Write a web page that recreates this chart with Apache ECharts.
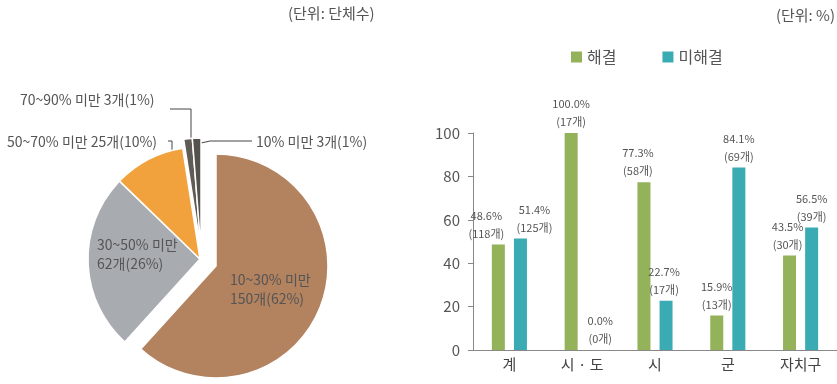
<!DOCTYPE html>
<html>
<head>
<meta charset="utf-8">
<script src="https://cdn.jsdelivr.net/npm/echarts@6/dist/echarts.min.js"></script>
<style>
  html, body { margin: 0; padding: 0; background: #fff; }
  #chart { width: 837px; height: 384px; }
</style>
</head>
<body>
<div id="chart"></div>
<script>
// Pie: groups by ratio range
const pieNames = ['10~30% 미만', '30~50% 미만', '50~70% 미만', '70~90% 미만', '10% 미만'];
const pieCounts = [150, 62, 25, 3, 3];
const piePercents = [62, 26, 10, 1, 1];

// Bars: resolved / unresolved share by local government type
const barCategories = ['계', '시 · 도', '시', '군', '자치구'];
const resolvedPct = [48.6, 100.0, 77.3, 15.9, 43.5];
const resolvedCnt = [118, 17, 58, 13, 30];
const unresolvedPct = [51.4, 0.0, 22.7, 84.1, 56.5];
const unresolvedCnt = [125, 0, 17, 69, 39];
const yTicks = [0, 20, 40, 60, 80, 100];

const FONT = '"Noto Sans CJK KR", "Noto Sans", sans-serif';
const TEXT = '#555';

const pieColors = ['#b3825f', '#a8acb1', '#f2a23c', '#5f5b57', '#55524e'];
const pieInside = [true, true, false, false, false];

// The pie is drawn as three layers so some slices can be pulled out
const PIE_CENTER = [200, 259];
const PIE_RADIUS = 112;
const pieLayers = [
  { members: [0], shift: [16, 7] },
  { members: [1, 2], shift: [0, 0] },
  { members: [3, 4], shift: [1, -9] }
];

// Where each pie label sits, and its leader line for the outside ones
const pieLabelSpots = [
  { x: 230, y: 289 },
  { x: 97, y: 254 },
  { x: 7, y: 142, line: [[172, 156], [172, 141], [168, 141]] },
  { x: 20, y: 100, line: [[191, 144], [191, 109], [170, 109]] },
  { x: 256, y: 142, line: [[201, 143], [210, 141], [252, 141]] }
];

// Horizontal nudges for bar labels that would otherwise collide
const resolvedLabelShift = [-12, 0, -6, 0, -2];
const unresolvedLabelShift = [14, 7, -2, 0, 0];

const chart = echarts.init(document.getElementById('chart'), null, { renderer: 'canvas' });

function pieLayer(layer) {
  const data = pieNames.map((n, i) => {
    const on = layer.members.indexOf(i) >= 0;
    if (!on) {
      return {
        name: n, value: pieCounts[i],
        itemStyle: { color: 'rgba(0,0,0,0)', borderWidth: 0 },
        label: { show: false }, labelLine: { show: false }
      };
    }
    return {
      name: n,
      value: pieCounts[i],
      itemStyle: { color: pieColors[i] },
      label: pieInside[i]
        ? { show: true, position: 'inside', formatter: n + '\n' + pieCounts[i] + '개(' + piePercents[i] + '%)' }
        : { show: true, position: 'outside', formatter: n + ' ' + pieCounts[i] + '개(' + piePercents[i] + '%)' },
      labelLine: { show: !pieInside[i] }
    };
  });
  return {
    type: 'pie',
    silent: true,
    center: [PIE_CENTER[0] + layer.shift[0], PIE_CENTER[1] + layer.shift[1]],
    radius: PIE_RADIUS,
    startAngle: 90,
    clockwise: true,
    avoidLabelOverlap: false,
    emphasis: { disabled: true },
    itemStyle: { borderColor: '#fff', borderWidth: 1.5 },
    label: { fontSize: 14, lineHeight: 19, color: TEXT, fontFamily: FONT },
    labelLine: { lineStyle: { color: '#444', width: 1 } },
    labelLayout: (p) => {
      if (layer.members.indexOf(p.dataIndex) < 0) return {};
      const s = pieLabelSpots[p.dataIndex];
      const o = { x: s.x, y: s.y, align: 'left', verticalAlign: 'middle' };
      if (s.line) o.labelLinePoints = s.line;
      return o;
    },
    data: data
  };
}

const barLabel = (counts) => ({
  show: true,
  position: 'top',
  distance: 2,
  fontSize: 11,
  lineHeight: 18,
  color: TEXT,
  fontFamily: FONT,
  formatter: (p) => p.value.toFixed(1) + '%\n(' + counts[p.dataIndex] + '개)'
});

chart.setOption({
  animation: false,
  backgroundColor: '#fff',
  textStyle: { fontFamily: FONT },
  graphic: [
    { type: 'text', left: 288, top: 6, style: { text: '(단위: 단체수)', font: '15px ' + FONT, fill: TEXT } },
    { type: 'text', right: 2, top: 8, style: { text: '(단위: %)', font: '15px ' + FONT, fill: TEXT } }
  ],
  legend: {
    data: ['해결', '미해결'],
    left: 566,
    top: 44,
    icon: 'rect',
    itemWidth: 11,
    itemHeight: 11,
    itemGap: 46,
    textStyle: { fontSize: 16, color: TEXT, fontFamily: FONT }
  },
  grid: { left: 473, right: 0, top: 133, bottom: 34 },
  xAxis: {
    type: 'category',
    data: barCategories,
    axisLine: { lineStyle: { color: '#888', width: 1 } },
    axisTick: { show: false },
    axisLabel: { fontSize: 15, color: '#444', margin: 7, fontFamily: FONT }
  },
  yAxis: {
    type: 'value',
    min: yTicks[0],
    max: yTicks[yTicks.length - 1],
    interval: yTicks[1] - yTicks[0],
    axisLine: { show: true, lineStyle: { color: '#888', width: 1 } },
    axisTick: { show: true, length: 5, lineStyle: { color: '#888' } },
    splitLine: { show: false },
    axisLabel: { fontSize: 15, color: TEXT, margin: 13, fontFamily: FONT }
  },
  series: pieLayers.map(pieLayer).concat([
    {
      name: '해결',
      type: 'bar',
      barWidth: 13,
      barGap: '70%',
      itemStyle: { color: '#93b25a' },
      label: barLabel(resolvedCnt),
      data: resolvedPct.map((v, i) => ({ value: v, label: { offset: [resolvedLabelShift[i], 0] } }))
    },
    {
      name: '미해결',
      type: 'bar',
      barWidth: 13,
      itemStyle: { color: '#3aabb3' },
      label: barLabel(unresolvedCnt),
      data: unresolvedPct.map((v, i) => ({ value: v, label: { offset: [unresolvedLabelShift[i], 0] } }))
    }
  ])
});
</script>
</body>
</html>
